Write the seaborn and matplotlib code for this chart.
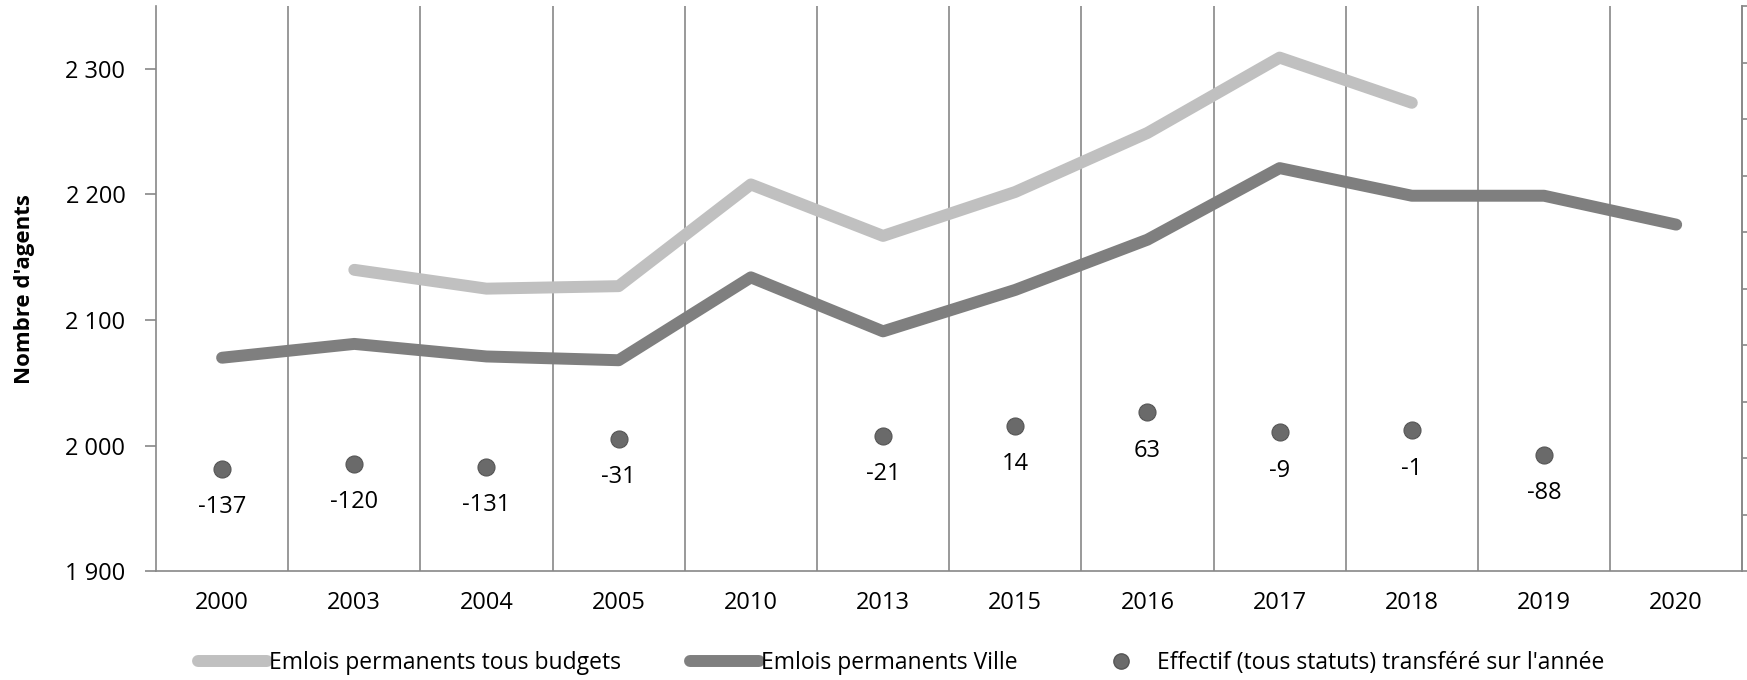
import numpy as np
import pandas as pd
import matplotlib
matplotlib.use("Agg")
import matplotlib.pyplot as plt
from matplotlib.lines import Line2D
import seaborn as sns

# données
annees = ['2000', '2003', '2004', '2005', '2010', '2013', '2015', '2016', '2017', '2018', '2019', '2020']
tous_budgets = [np.nan, 2140, 2125, 2127, 2208, 2167, 2202, 2249, 2309, 2273, np.nan, np.nan]
ville = [2070, 2081, 2071, 2068, 2134, 2091, 2124, 2164, 2221, 2199, 2199, 2176]
transferes = [-137, -120, -131, -31, np.nan, -21, 14, 63, -9, -1, -88, np.nan]

df = pd.DataFrame({'x': range(len(annees)), 'annee': annees,
                   'tous': tous_budgets, 'ville': ville, 'transf': transferes})

sns.set_style('white')
plt.rcParams['font.family'] = ['Open Sans', 'DejaVu Sans']
plt.rcParams['text.color'] = 'black'
plt.rcParams['xtick.color'] = 'black'
plt.rcParams['ytick.color'] = 'black'
plt.rcParams['axes.labelcolor'] = 'black'

fig = plt.figure(figsize=(17.47, 6.8), dpi=100)
ax = fig.add_axes([0.0893, 0.160, 0.908, 0.831])

c_clair = '#c0c0c0'
c_fonce = '#7f7f7f'
sns.lineplot(data=df, x='x', y='tous', ax=ax, color=c_clair, linewidth=8.6,
             solid_capstyle='round', solid_joinstyle='round')
sns.lineplot(data=df, x='x', y='ville', ax=ax, color=c_fonce, linewidth=8.6,
             solid_capstyle='round', solid_joinstyle='round')

ax.set_xlim(-0.5, len(annees) - 0.5)
ax.set_ylim(1900, 2350)
ax.set_yticks([1900, 2000, 2100, 2200, 2300])
ax.set_yticklabels(['1 900', '2 000', '2 100', '2 200', '2 300'])
ax.set_xticks(df['x'])
ax.set_xticklabels(annees)
ax.tick_params(axis='y', length=8, width=1.2, color='#888888', labelsize=17, pad=14)
ax.tick_params(axis='x', length=0, labelsize=17, pad=14)
ax.set_xlabel('')
ax.set_ylabel("Nombre d'agents", fontsize=16, fontweight='bold', labelpad=22)

# séparateurs verticaux entre catégories
for b in np.arange(0.5, len(annees) - 0.5, 1):
    ax.axvline(b, color='#888888', linewidth=1.2, zorder=0)

ax.spines['top'].set_visible(False)
for s in ['left', 'bottom', 'right']:
    ax.spines[s].set_color('#888888')
    ax.spines[s].set_linewidth(1.2)

# axe secondaire pour l'effectif transféré
ax2 = ax.twinx()
sns.scatterplot(data=df, x='x', y='transf', ax=ax2, s=150, color='#6a6a6a',
                edgecolor='#555555', linewidth=0.8, zorder=5)
ax2.set_ylim(-500, 1500)
ax2.set_yticks(np.arange(-500, 1501, 200))
ax2.set_yticklabels([])
ax2.set_ylabel('')
ax2.tick_params(axis='y', length=8, width=1.2, color='#888888')
ax2.spines['top'].set_visible(False)
ax2.spines['right'].set_color('#888888')
ax2.spines['right'].set_linewidth(1.2)
ax2.spines['left'].set_visible(False)
ax2.spines['bottom'].set_visible(False)

for i, v in enumerate(transferes):
    if not np.isnan(v):
        ax2.annotate(f'{int(v)}', (i, v), xytext=(0, -19), textcoords='offset points',
                     ha='center', va='top', fontsize=17)

handles = [
    Line2D([], [], color=c_clair, linewidth=8.6, solid_capstyle='round'),
    Line2D([], [], color=c_fonce, linewidth=8.6, solid_capstyle='round'),
    Line2D([], [], linestyle='none', marker='o', markersize=11,
           markerfacecolor='#6a6a6a', markeredgecolor='#555555'),
]
labels = ['Emlois permanents tous budgets', 'Emlois permanents Ville',
          "Effectif (tous statuts) transféré sur l'année"]
fig.legend(handles, labels, loc='center', bbox_to_anchor=(0.516, 0.025), ncol=3,
           frameon=False, fontsize=16.5, handlelength=3.0, handletextpad=0.1,
           columnspacing=3.0)

fig.savefig('out.png', dpi=100)
